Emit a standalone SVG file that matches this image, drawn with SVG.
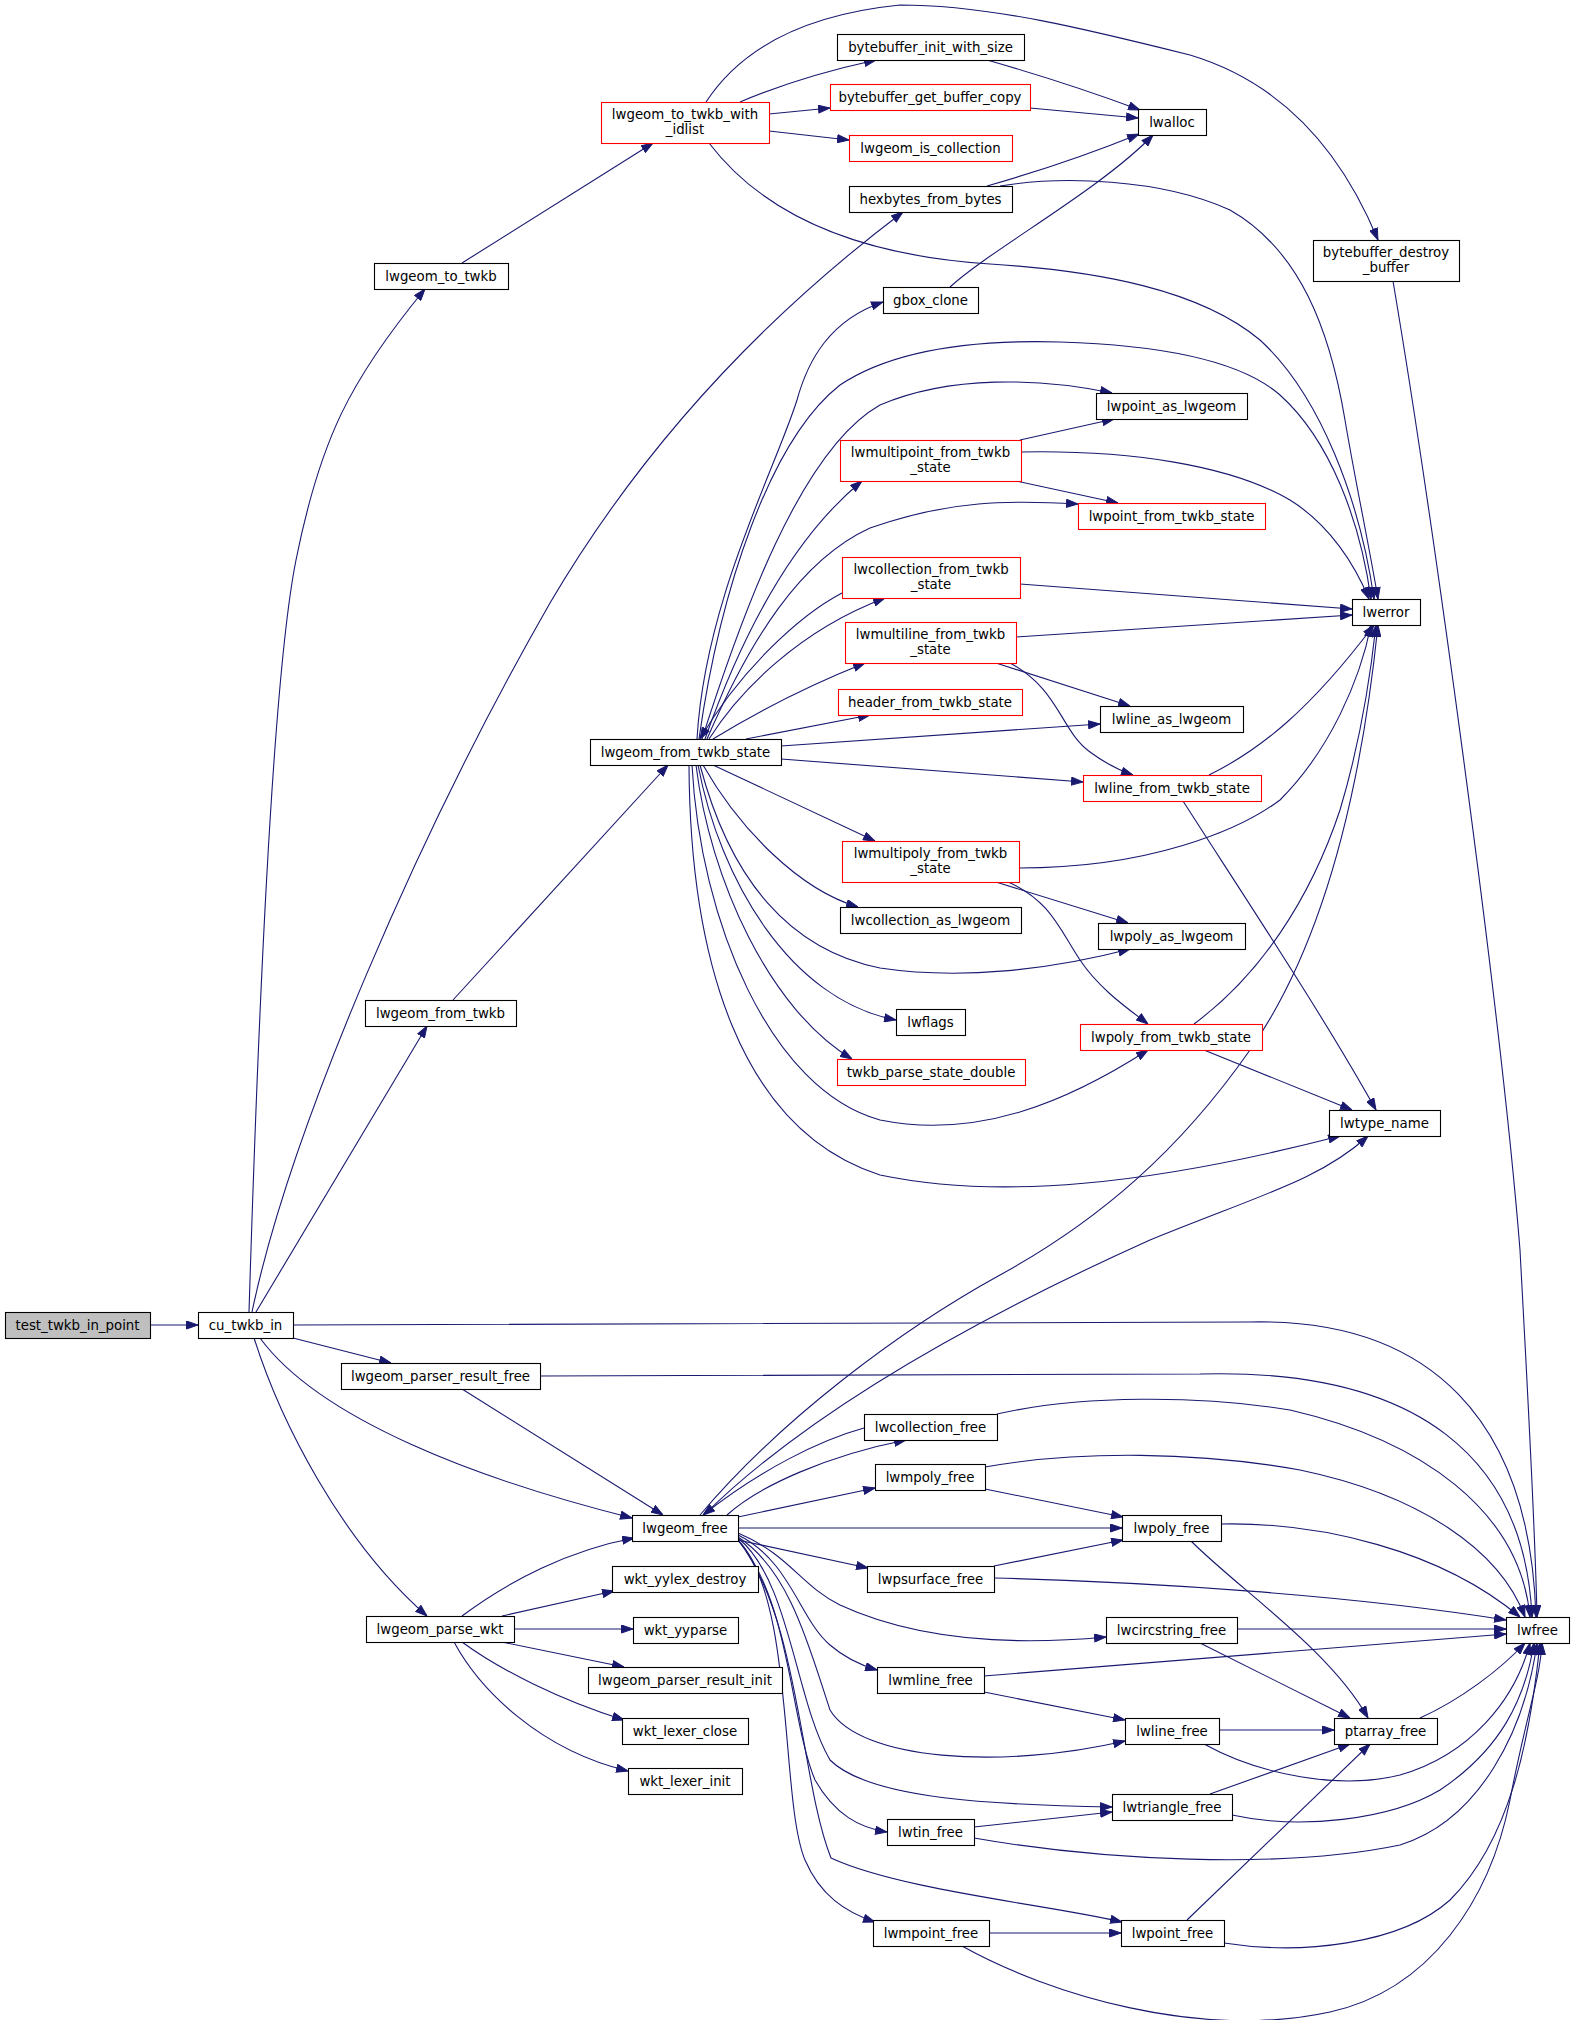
<svg xmlns="http://www.w3.org/2000/svg" width="1575" height="2020" viewBox="0 0 1575 2020">
<defs>
<marker id="a" viewBox="0 0 12 9" refX="12" refY="4.5" markerWidth="12" markerHeight="9" orient="auto" markerUnits="userSpaceOnUse"><path d="M0.5,0.5L12,4.5L0.5,8.5z" fill="#191970" stroke="#191970" stroke-width="1"/></marker>
<style>
.n rect{fill:#fff;stroke:#000;stroke-width:1.1}
.n.r rect{stroke:#ff0000}
.n.g rect{fill:#bfbfbf}
text{font-family:"DejaVu Sans","Liberation Sans",sans-serif;font-size:13.33px;text-anchor:middle;fill:#000}
#edges path{fill:none;stroke:#191970;stroke-width:1.1;marker-end:url(#a)}
</style>
</defs>
<rect width="1575" height="2020" fill="#fff"/>
<g id="edges">
<path d="M150,1325 L198,1325"/>
<path d="M249,1312 C254,1150 268,700 296,560 C320,440 350,380 425,289"/>
<path d="M252,1312 C290,1130 420,830 550,603 C640,450 760,320 903,212"/>
<path d="M256,1312 L427,1026"/>
<path d="M293,1338 L391,1363"/>
<path d="M260,1338 C320,1420 480,1480 632,1518"/>
<path d="M254,1338 C280,1420 340,1540 427,1616"/>
<path d="M293,1325 C800,1325 1100,1325 1250,1322 C1430,1318 1530,1420 1536,1617"/>
<path d="M462,263 L653,143"/>
<path d="M740,102 C780,85 830,70 876,60"/>
<path d="M769,114 L830,108"/>
<path d="M769,131 L849,140"/>
<path d="M706,102 C740,50 800,15 900,5 C990,5 1090,30 1190,55 C1290,85 1345,160 1378,240"/>
<path d="M709,143 C760,210 850,255 990,264 C1100,271 1200,290 1260,340 C1320,395 1360,500 1374,599"/>
<path d="M987,60 C1050,78 1100,95 1140,110"/>
<path d="M1030,108 L1138,118"/>
<path d="M987,186 C1050,168 1100,150 1139,134"/>
<path d="M1000,186 C1060,176 1160,178 1230,210 C1300,250 1330,330 1345,420 C1355,480 1370,550 1378,599"/>
<path d="M950,287 C990,250 1100,190 1153,135"/>
<path d="M1393,281 C1430,500 1500,1000 1520,1250 C1528,1400 1535,1520 1537,1617"/>
<path d="M453,1000 L668,765"/>
<path d="M697,739 C705,600 775,470 797,400 C808,360 830,320 883,302"/>
<path d="M699,739 C720,590 770,440 840,385 C900,345 990,340 1060,342 C1160,345 1240,360 1280,395 C1330,440 1360,520 1371,599"/>
<path d="M702,739 C740,620 800,450 880,405 C950,375 1040,378 1112,393"/>
<path d="M705,739 C740,640 790,540 862,481"/>
<path d="M707,739 C750,640 800,560 870,528 C950,500 1010,500 1078,504"/>
<path d="M709,739 C740,690 800,630 885,598"/>
<path d="M842,593 C800,615 740,670 700,739"/>
<path d="M713,739 C760,710 810,685 865,663"/>
<path d="M746,739 L870,715"/>
<path d="M781,746 L1100,724"/>
<path d="M781,759 L1083,782"/>
<path d="M713,765 L875,841"/>
<path d="M703,765 C740,830 800,890 858,907"/>
<path d="M700,765 C730,880 790,950 880,968 C960,980 1050,970 1130,949"/>
<path d="M698,765 C720,880 790,1000 896,1020"/>
<path d="M696,765 C710,880 770,1010 852,1059"/>
<path d="M692,765 C700,920 770,1090 880,1120 C980,1140 1070,1100 1148,1050"/>
<path d="M689,765 C690,960 740,1130 880,1175 C1000,1200 1150,1185 1340,1136"/>
<path d="M1020,440 L1114,419"/>
<path d="M1021,452 C1130,450 1230,465 1290,500 C1330,525 1355,565 1369,599"/>
<path d="M1016,481 L1118,503"/>
<path d="M1020,584 L1352,609"/>
<path d="M1016,637 L1352,615"/>
<path d="M996,663 L1130,706"/>
<path d="M1010,663 C1060,690 1060,730 1090,752 C1105,763 1118,770 1133,775"/>
<path d="M1209,775 C1260,750 1310,710 1374,625"/>
<path d="M1183,801 C1240,890 1320,1010 1376,1110"/>
<path d="M1019,868 C1150,868 1240,830 1280,800 C1330,750 1360,680 1371,625"/>
<path d="M996,882 L1128,923"/>
<path d="M1008,882 C1050,900 1060,930 1080,960 C1100,990 1130,1010 1148,1024"/>
<path d="M1194,1024 C1260,975 1310,900 1340,810 C1358,750 1370,680 1376,625"/>
<path d="M1204,1050 L1352,1110"/>
<path d="M700,1515 C780,1420 900,1330 1000,1275 C1100,1220 1180,1150 1250,1050 C1320,950 1360,800 1378,625"/>
<path d="M704,1515 C800,1420 950,1330 1150,1240 C1260,1195 1320,1180 1368,1136"/>
<path d="M727,1515 C760,1485 830,1455 906,1440"/>
<path d="M864,1428 C820,1440 760,1470 703,1515"/>
<path d="M738,1517 L875,1488"/>
<path d="M738,1528 L1122,1528"/>
<path d="M738,1540 L868,1568"/>
<path d="M738,1533 C790,1555 800,1585 840,1605 C920,1642 1020,1645 1106,1637"/>
<path d="M738,1535 C790,1560 800,1620 830,1645 C845,1658 860,1665 877,1670"/>
<path d="M738,1537 C790,1570 810,1650 830,1710 C860,1760 1000,1770 1125,1741"/>
<path d="M738,1538 C790,1580 795,1700 830,1760 C870,1800 1000,1805 1112,1807"/>
<path d="M738,1540 C790,1600 790,1720 815,1780 C835,1815 860,1828 887,1832"/>
<path d="M738,1540 C800,1620 800,1780 831,1858 C900,1890 1050,1905 1122,1922"/>
<path d="M738,1540 C795,1600 780,1800 805,1860 C820,1895 845,1912 875,1922"/>
<path d="M462,1389 L663,1515"/>
<path d="M540,1376 C900,1376 1100,1376 1200,1374 C1420,1368 1525,1460 1532,1617"/>
<path d="M997,1414 C1080,1395 1200,1395 1290,1410 C1420,1440 1520,1510 1530,1617"/>
<path d="M985,1467 C1080,1450 1200,1452 1300,1470 C1420,1495 1500,1550 1525,1617"/>
<path d="M1221,1524 C1320,1522 1440,1550 1520,1617"/>
<path d="M994,1578 C1150,1582 1350,1595 1506,1620"/>
<path d="M1237,1629 L1506,1629"/>
<path d="M984,1676 L1506,1634"/>
<path d="M985,1489 L1123,1517"/>
<path d="M994,1566 L1123,1540"/>
<path d="M1191,1541 C1240,1590 1330,1650 1368,1718"/>
<path d="M1200,1643 L1350,1718"/>
<path d="M984,1692 L1125,1720"/>
<path d="M1219,1730 L1334,1730"/>
<path d="M1204,1744 C1260,1775 1340,1790 1400,1775 C1470,1755 1515,1700 1530,1643"/>
<path d="M1210,1794 L1350,1744"/>
<path d="M1232,1815 C1300,1830 1390,1820 1440,1790 C1500,1750 1525,1700 1534,1643"/>
<path d="M974,1827 L1112,1812"/>
<path d="M974,1838 C1100,1860 1280,1870 1400,1845 C1480,1820 1525,1730 1537,1643"/>
<path d="M989,1933 L1121,1933"/>
<path d="M962,1946 C1050,1995 1200,2040 1330,2012 C1430,1990 1490,1900 1510,1800 C1525,1720 1540,1680 1542,1643"/>
<path d="M1187,1920 L1370,1744"/>
<path d="M1224,1943 C1300,1955 1400,1945 1450,1900 C1510,1840 1530,1740 1540,1643"/>
<path d="M1420,1718 C1460,1700 1500,1670 1525,1643"/>
<path d="M462,1616 C510,1580 570,1550 634,1538"/>
<path d="M502,1616 L614,1591"/>
<path d="M514,1629 L633,1629"/>
<path d="M502,1642 L624,1667"/>
<path d="M462,1642 C500,1670 560,1700 624,1720"/>
<path d="M454,1642 C480,1690 540,1750 628,1771"/>
</g>
<g id="test_twkb_in_point" class="n g"><rect x="5.5" y="1312.5" width="145" height="26"/><text x="77.5" y="1329.5">test_twkb_in_point</text></g>
<g id="cu_twkb_in" class="n"><rect x="198.5" y="1312.5" width="95" height="26"/><text x="245.5" y="1329.5">cu_twkb_in</text></g>
<g id="lwgeom_to_twkb" class="n"><rect x="374.5" y="263.5" width="134" height="26"/><text x="441" y="280.5">lwgeom_to_twkb</text></g>
<g id="lwgeom_to_twkb_with_idlist" class="n r"><rect x="601.5" y="102.5" width="168" height="41"/><text x="685" y="118.5">lwgeom_to_twkb_with</text><text x="685" y="133.5">_idlist</text></g>
<g id="bytebuffer_init_with_size" class="n"><rect x="837.5" y="34.5" width="187" height="26"/><text x="930.5" y="51.5">bytebuffer_init_with_size</text></g>
<g id="bytebuffer_get_buffer_copy" class="n r"><rect x="830.5" y="84.5" width="200" height="26"/><text x="930" y="101.5">bytebuffer_get_buffer_copy</text></g>
<g id="lwgeom_is_collection" class="n r"><rect x="849.5" y="135.5" width="163" height="26"/><text x="930.5" y="152.5">lwgeom_is_collection</text></g>
<g id="hexbytes_from_bytes" class="n"><rect x="849.5" y="186.5" width="163" height="26"/><text x="930.5" y="203.5">hexbytes_from_bytes</text></g>
<g id="lwalloc" class="n"><rect x="1138.5" y="109.5" width="68" height="26"/><text x="1172" y="126.5">lwalloc</text></g>
<g id="bytebuffer_destroy_buffer" class="n"><rect x="1313.5" y="240.5" width="146" height="41"/><text x="1386" y="256.5">bytebuffer_destroy</text><text x="1386" y="271.5">_buffer</text></g>
<g id="gbox_clone" class="n"><rect x="883.5" y="287.5" width="95" height="26"/><text x="930.5" y="304.5">gbox_clone</text></g>
<g id="lwpoint_as_lwgeom" class="n"><rect x="1096.5" y="393.5" width="151" height="26"/><text x="1171.5" y="410.5">lwpoint_as_lwgeom</text></g>
<g id="lwmultipoint_from_twkb_state" class="n r"><rect x="840.5" y="440.5" width="181" height="41"/><text x="930.5" y="456.5">lwmultipoint_from_twkb</text><text x="930.5" y="471.5">_state</text></g>
<g id="lwpoint_from_twkb_state" class="n r"><rect x="1078.5" y="503.5" width="187" height="26"/><text x="1171.5" y="520.5">lwpoint_from_twkb_state</text></g>
<g id="lwcollection_from_twkb_state" class="n r"><rect x="842.5" y="557.5" width="178" height="41"/><text x="931" y="573.5">lwcollection_from_twkb</text><text x="931" y="588.5">_state</text></g>
<g id="lwmultiline_from_twkb_state" class="n r"><rect x="845.5" y="622.5" width="171" height="41"/><text x="930.5" y="638.5">lwmultiline_from_twkb</text><text x="930.5" y="653.5">_state</text></g>
<g id="header_from_twkb_state" class="n r"><rect x="838.5" y="689.5" width="184" height="26"/><text x="930" y="706.5">header_from_twkb_state</text></g>
<g id="lwerror" class="n"><rect x="1352.5" y="599.5" width="68" height="26"/><text x="1386" y="616.5">lwerror</text></g>
<g id="lwline_as_lwgeom" class="n"><rect x="1100.5" y="706.5" width="143" height="26"/><text x="1171.5" y="723.5">lwline_as_lwgeom</text></g>
<g id="lwgeom_from_twkb_state" class="n"><rect x="590.5" y="739.5" width="191" height="26"/><text x="685.5" y="756.5">lwgeom_from_twkb_state</text></g>
<g id="lwline_from_twkb_state" class="n r"><rect x="1083.5" y="775.5" width="178" height="26"/><text x="1172" y="792.5">lwline_from_twkb_state</text></g>
<g id="lwmultipoly_from_twkb_state" class="n r"><rect x="842.5" y="841.5" width="177" height="41"/><text x="930.5" y="857.5">lwmultipoly_from_twkb</text><text x="930.5" y="872.5">_state</text></g>
<g id="lwcollection_as_lwgeom" class="n"><rect x="840.5" y="907.5" width="181" height="26"/><text x="930.5" y="924.5">lwcollection_as_lwgeom</text></g>
<g id="lwpoly_as_lwgeom" class="n"><rect x="1098.5" y="923.5" width="147" height="26"/><text x="1171.5" y="940.5">lwpoly_as_lwgeom</text></g>
<g id="lwflags" class="n"><rect x="896.5" y="1009.5" width="69" height="26"/><text x="930.5" y="1026.5">lwflags</text></g>
<g id="lwpoly_from_twkb_state" class="n r"><rect x="1080.5" y="1024.5" width="182" height="26"/><text x="1171" y="1041.5">lwpoly_from_twkb_state</text></g>
<g id="twkb_parse_state_double" class="n r"><rect x="837.5" y="1059.5" width="188" height="26"/><text x="931" y="1076.5">twkb_parse_state_double</text></g>
<g id="lwtype_name" class="n"><rect x="1329.5" y="1110.5" width="111" height="26"/><text x="1384.5" y="1127.5">lwtype_name</text></g>
<g id="lwgeom_from_twkb" class="n"><rect x="365.5" y="1000.5" width="151" height="26"/><text x="440.5" y="1017.5">lwgeom_from_twkb</text></g>
<g id="lwgeom_parser_result_free" class="n"><rect x="341.5" y="1363.5" width="199" height="26"/><text x="440.5" y="1380.5">lwgeom_parser_result_free</text></g>
<g id="lwcollection_free" class="n"><rect x="864.5" y="1414.5" width="133" height="26"/><text x="930.5" y="1431.5">lwcollection_free</text></g>
<g id="lwmpoly_free" class="n"><rect x="875.5" y="1464.5" width="110" height="26"/><text x="930" y="1481.5">lwmpoly_free</text></g>
<g id="lwgeom_free" class="n"><rect x="632.5" y="1515.5" width="106" height="26"/><text x="685" y="1532.5">lwgeom_free</text></g>
<g id="lwpoly_free" class="n"><rect x="1122.5" y="1515.5" width="99" height="26"/><text x="1171.5" y="1532.5">lwpoly_free</text></g>
<g id="lwpsurface_free" class="n"><rect x="867.5" y="1566.5" width="127" height="26"/><text x="930.5" y="1583.5">lwpsurface_free</text></g>
<g id="wkt_yylex_destroy" class="n"><rect x="612.5" y="1566.5" width="146" height="26"/><text x="685" y="1583.5">wkt_yylex_destroy</text></g>
<g id="lwcircstring_free" class="n"><rect x="1106.5" y="1617.5" width="131" height="26"/><text x="1171.5" y="1634.5">lwcircstring_free</text></g>
<g id="lwgeom_parse_wkt" class="n"><rect x="366.5" y="1616.5" width="148" height="26"/><text x="440" y="1633.5">lwgeom_parse_wkt</text></g>
<g id="wkt_yyparse" class="n"><rect x="633.5" y="1617.5" width="105" height="26"/><text x="685.5" y="1634.5">wkt_yyparse</text></g>
<g id="lwfree" class="n"><rect x="1506.5" y="1617.5" width="63" height="26"/><text x="1537.5" y="1634.5">lwfree</text></g>
<g id="lwgeom_parser_result_init" class="n"><rect x="588.5" y="1667.5" width="194" height="26"/><text x="685" y="1684.5">lwgeom_parser_result_init</text></g>
<g id="lwmline_free" class="n"><rect x="877.5" y="1667.5" width="107" height="26"/><text x="930.5" y="1684.5">lwmline_free</text></g>
<g id="lwline_free" class="n"><rect x="1125.5" y="1718.5" width="94" height="26"/><text x="1172" y="1735.5">lwline_free</text></g>
<g id="ptarray_free" class="n"><rect x="1334.5" y="1718.5" width="103" height="26"/><text x="1385.5" y="1735.5">ptarray_free</text></g>
<g id="wkt_lexer_close" class="n"><rect x="622.5" y="1718.5" width="126" height="26"/><text x="685" y="1735.5">wkt_lexer_close</text></g>
<g id="wkt_lexer_init" class="n"><rect x="628.5" y="1768.5" width="114" height="26"/><text x="685" y="1785.5">wkt_lexer_init</text></g>
<g id="lwtriangle_free" class="n"><rect x="1112.5" y="1794.5" width="120" height="26"/><text x="1172" y="1811.5">lwtriangle_free</text></g>
<g id="lwtin_free" class="n"><rect x="887.5" y="1819.5" width="87" height="26"/><text x="930.5" y="1836.5">lwtin_free</text></g>
<g id="lwmpoint_free" class="n"><rect x="873.5" y="1920.5" width="116" height="26"/><text x="931" y="1937.5">lwmpoint_free</text></g>
<g id="lwpoint_free" class="n"><rect x="1121.5" y="1920.5" width="103" height="26"/><text x="1172.5" y="1937.5">lwpoint_free</text></g>
</svg>
